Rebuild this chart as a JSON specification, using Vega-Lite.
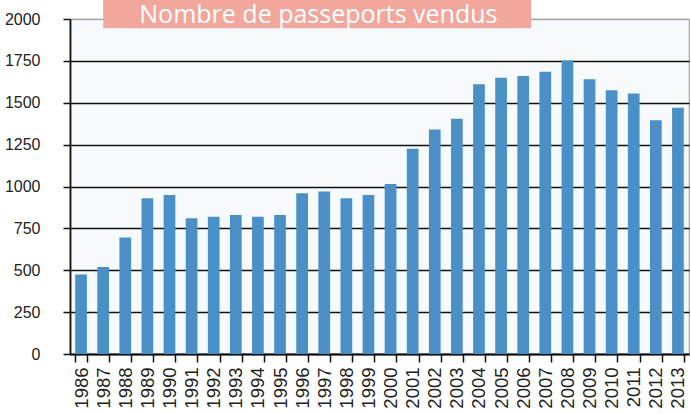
{
  "$schema": "https://vega.github.io/schema/vega-lite/v6.json",
  "width": 619,
  "height": 335,
  "autosize": "none",
  "padding": {"left": 70, "top": 19, "right": 2, "bottom": 60},
  "background": "white",
  "config": {
    "view": {"fill": "#F7FAFD", "stroke": "#A8A8A8", "strokeWidth": 1.2},
    "font": "Liberation Sans"
  },
  "datasets": {
    "passeports": [
      {"annee": "1986", "nombre": 475},
      {"annee": "1987", "nombre": 520},
      {"annee": "1988", "nombre": 695},
      {"annee": "1989", "nombre": 930},
      {"annee": "1990", "nombre": 950},
      {"annee": "1991", "nombre": 810},
      {"annee": "1992", "nombre": 820},
      {"annee": "1993", "nombre": 830},
      {"annee": "1994", "nombre": 820},
      {"annee": "1995", "nombre": 830},
      {"annee": "1996", "nombre": 960},
      {"annee": "1997", "nombre": 970},
      {"annee": "1998", "nombre": 930},
      {"annee": "1999", "nombre": 950},
      {"annee": "2000", "nombre": 1015},
      {"annee": "2001", "nombre": 1225},
      {"annee": "2002", "nombre": 1340},
      {"annee": "2003", "nombre": 1405},
      {"annee": "2004", "nombre": 1610},
      {"annee": "2005", "nombre": 1650},
      {"annee": "2006", "nombre": 1660},
      {"annee": "2007", "nombre": 1685},
      {"annee": "2008", "nombre": 1752},
      {"annee": "2009", "nombre": 1640},
      {"annee": "2010", "nombre": 1575},
      {"annee": "2011", "nombre": 1555},
      {"annee": "2012", "nombre": 1395},
      {"annee": "2013", "nombre": 1470}
    ],
    "titre": [{"texte": "Nombre de passeports vendus"}]
  },
  "layer": [
    {
      "data": {"name": "passeports"},
      "mark": {"type": "bar", "color": "#4A90C6"},
      "encoding": {
        "x": {
          "field": "annee",
          "type": "nominal",
          "sort": null,
          "scale": {"paddingInner": 0.47, "paddingOuter": 0.235},
          "axis": {
            "title": null,
            "labelAngle": -90,
            "labelFontSize": 18.5,
            "labelColor": "#222222",
            "labelPadding": 5,
            "tickBand": "extent",
            "tickSize": 8,
            "tickColor": "#111111",
            "tickWidth": 1.5,
            "domainColor": "#111111",
            "domainWidth": 1.8
          }
        },
        "y": {
          "field": "nombre",
          "type": "quantitative",
          "scale": {"domain": [0, 2000], "nice": false},
          "axis": {
            "title": null,
            "format": "d",
            "values": [0, 250, 500, 750, 1000, 1250, 1500, 1750, 2000],
            "labelFontSize": 16,
            "labelColor": "#222222",
            "labelPadding": 23,
            "tickSize": 7,
            "tickColor": "#111111",
            "tickWidth": 1.5,
            "domainColor": "#111111",
            "domainWidth": 1.8,
            "grid": true,
            "gridColor": {"condition": {"test": "datum.value === 2000", "value": "#A8A8A8"}, "value": "#111111"},
            "gridWidth": 1.6
          }
        }
      }
    },
    {
      "data": {"name": "titre"},
      "mark": {"type": "rect", "color": "#F2A79C"},
      "encoding": {
        "x": {"datum": "1987", "type": "nominal", "bandPosition": 0.5},
        "x2": {"datum": "2006", "bandPosition": 1.18},
        "y": {"datum": 1945, "type": "quantitative"},
        "y2": {"datum": 2115}
      }
    },
    {
      "data": {"name": "titre"},
      "mark": {"type": "text", "color": "white", "font": "Open Sans", "fontSize": 25, "align": "center", "baseline": "alphabetic"},
      "encoding": {
        "x": {"datum": "1997", "type": "nominal", "bandPosition": 0},
        "y": {"datum": 1978, "type": "quantitative"},
        "text": {"field": "texte"}
      }
    }
  ]
}
